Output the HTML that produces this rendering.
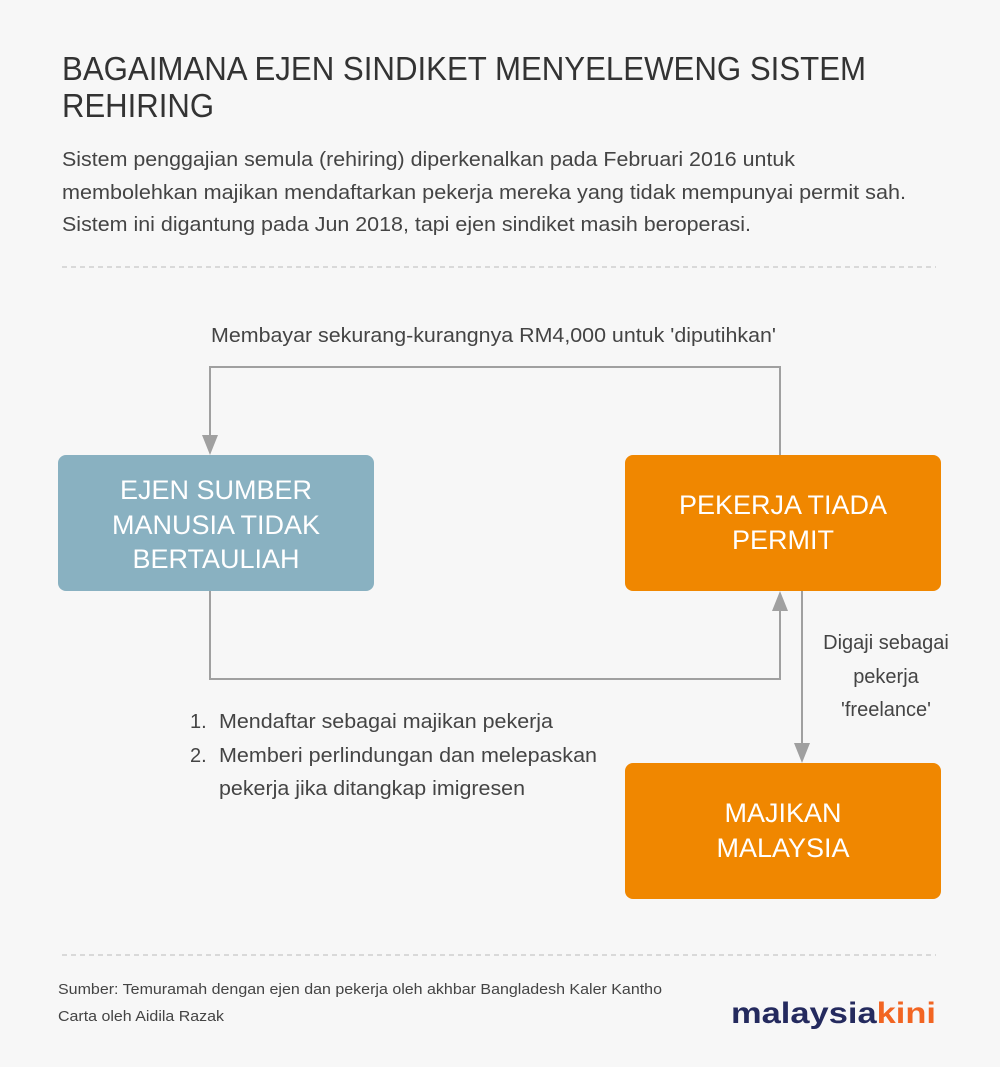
<!DOCTYPE html>
<html><head><meta charset="utf-8"><style>
html,body{margin:0;padding:0;background:#f7f7f7}
svg{display:block}
text{font-family:"Liberation Sans",sans-serif}
</style></head><body>
<svg width="1000" height="1067" viewBox="0 0 1000 1067" xmlns="http://www.w3.org/2000/svg">
<rect width="1000" height="1067" fill="#f7f7f7"/>
<g fill="#333" font-size="33">
<text x="62" y="80" textLength="804" lengthAdjust="spacingAndGlyphs">BAGAIMANA EJEN SINDIKET MENYELEWENG SISTEM</text>
<text x="62" y="117" textLength="152" lengthAdjust="spacingAndGlyphs">REHIRING</text>
</g>
<g fill="#444" font-size="20">
<text x="62" y="166" textLength="733" lengthAdjust="spacingAndGlyphs">Sistem penggajian semula (rehiring) diperkenalkan pada Februari 2016 untuk</text>
<text x="62" y="199" textLength="844" lengthAdjust="spacingAndGlyphs">membolehkan majikan mendaftarkan pekerja mereka yang tidak mempunyai permit sah.</text>
<text x="62" y="231" textLength="689" lengthAdjust="spacingAndGlyphs">Sistem ini digantung pada Jun 2018, tapi ejen sindiket masih beroperasi.</text>
</g>
<line x1="62" y1="267" x2="936" y2="267" stroke="#bbb" stroke-width="1" stroke-dasharray="5,4"/>
<line x1="62" y1="955" x2="936" y2="955" stroke="#bbb" stroke-width="1" stroke-dasharray="5,4"/>

<text x="211" y="342" font-size="20" fill="#444" textLength="565" lengthAdjust="spacingAndGlyphs">Membayar sekurang-kurangnya RM4,000 untuk 'diputihkan'</text>

<g stroke="#a0a0a0" stroke-width="2" fill="none">
<polyline points="780,455 780,367 210,367 210,438"/>
<polyline points="210,591 210,679 780,679 780,608"/>
<line x1="802" y1="591" x2="802" y2="745"/>
</g>
<g fill="#a0a0a0">
<polygon points="202,435 218,435 210,455"/>
<polygon points="772,611 788,611 780,591"/>
<polygon points="794,743 810,743 802,763"/>
</g>

<rect x="58" y="455" width="316" height="136" rx="8" fill="#89b1c1"/>
<rect x="625" y="455" width="316" height="136" rx="8" fill="#f08700"/>
<rect x="625" y="763" width="316" height="136" rx="8" fill="#f08700"/>

<g fill="#fff" font-size="27" text-anchor="middle">
<text x="216" y="499">EJEN SUMBER</text>
<text x="216" y="534">MANUSIA TIDAK</text>
<text x="216" y="568">BERTAULIAH</text>
<text x="783" y="514">PEKERJA TIADA</text>
<text x="783" y="549">PERMIT</text>
<text x="783" y="822">MAJIKAN</text>
<text x="783" y="857">MALAYSIA</text>
</g>

<g fill="#444" font-size="20" text-anchor="middle">
<text x="886" y="649">Digaji sebagai</text>
<text x="886" y="683">pekerja</text>
<text x="886" y="716">'freelance'</text>
</g>

<g fill="#444" font-size="20">
<text x="190" y="728">1.</text>
<text x="219" y="728" textLength="334" lengthAdjust="spacingAndGlyphs">Mendaftar sebagai majikan pekerja</text>
<text x="190" y="762">2.</text>
<text x="219" y="762" textLength="378" lengthAdjust="spacingAndGlyphs">Memberi perlindungan dan melepaskan</text>
<text x="219" y="795" textLength="306" lengthAdjust="spacingAndGlyphs">pekerja jika ditangkap imigresen</text>
</g>

<g fill="#444" font-size="15">
<text x="58" y="994" textLength="604" lengthAdjust="spacingAndGlyphs">Sumber: Temuramah dengan ejen dan pekerja oleh akhbar Bangladesh Kaler Kantho</text>
<text x="58" y="1021" textLength="166" lengthAdjust="spacingAndGlyphs">Carta oleh Aidila Razak</text>
</g>

<text x="731" y="1023" font-size="30" font-weight="bold" textLength="205" lengthAdjust="spacingAndGlyphs"><tspan fill="#242a5e">malaysia</tspan><tspan fill="#f26522">kini</tspan></text>
</svg>
</body></html>
